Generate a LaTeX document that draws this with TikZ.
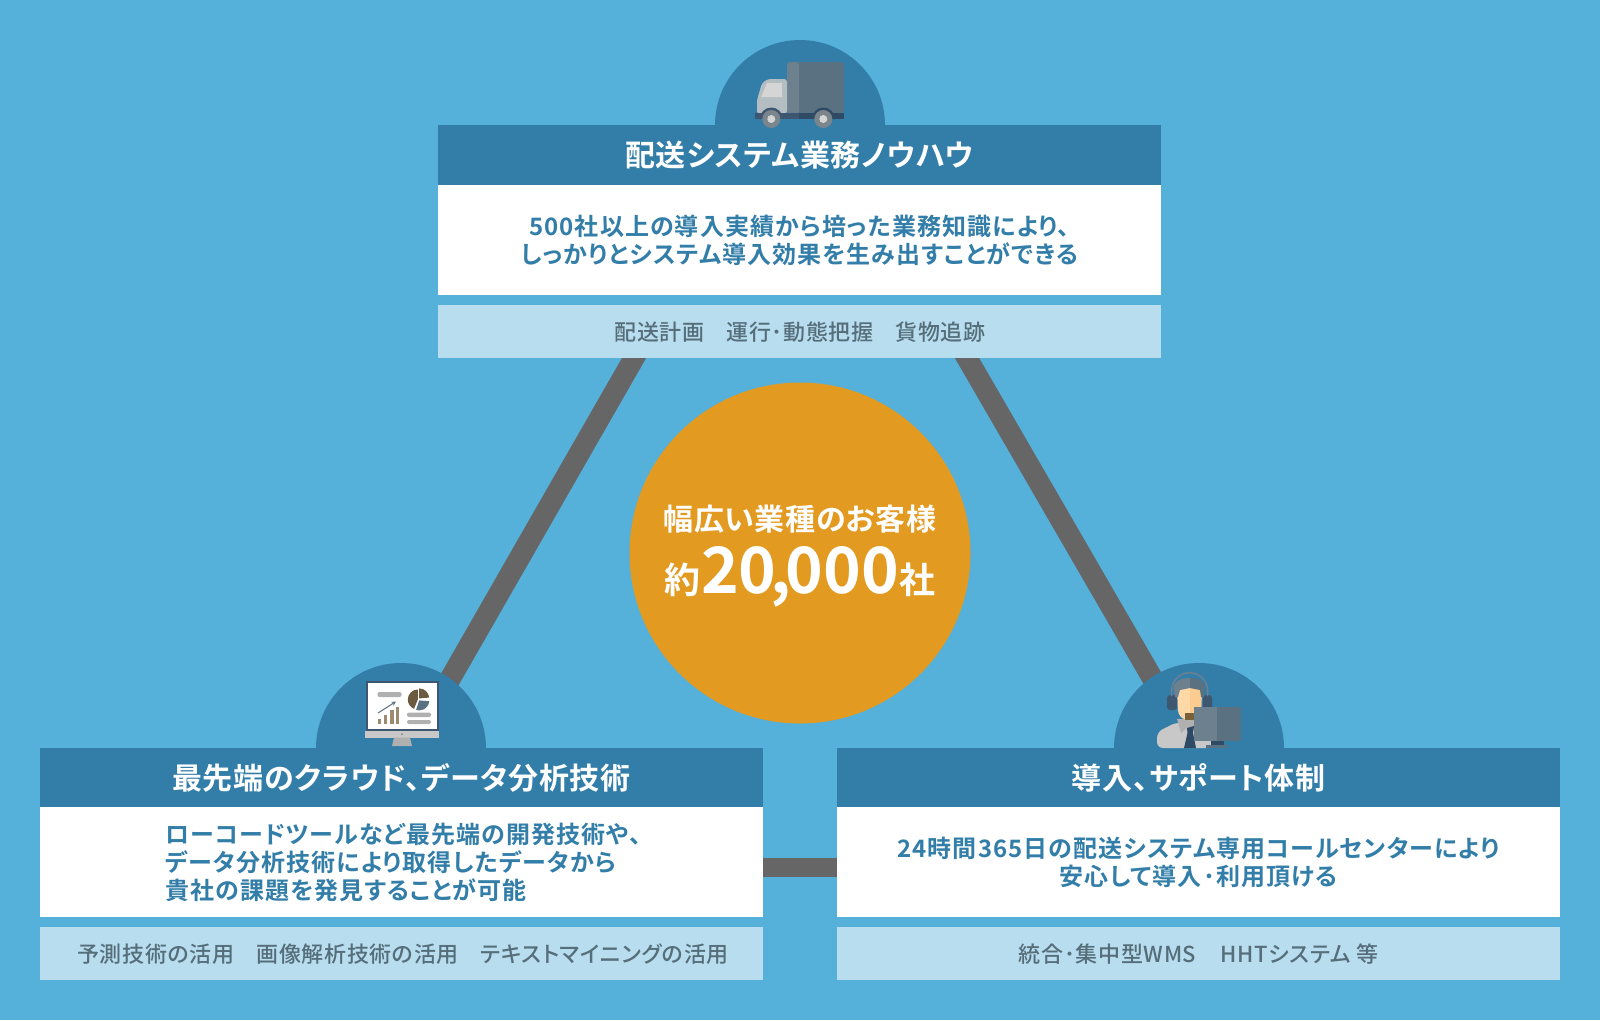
\documentclass[tikz,border=0pt]{standalone}
\usepackage{fontspec}
\setmainfont{Noto Sans CJK JP}
\newfontfamily\jpb{Noto Sans CJK JP}[UprightFont={* Bold},RawFeature=+palt,LetterSpace=4.5]
\newfontfamily\jpbh{Noto Sans CJK JP}[UprightFont={* Bold},RawFeature=+palt,LetterSpace=2.5]
\newfontfamily\jpbc{Noto Sans CJK JP}[UprightFont={* Bold},RawFeature=+palt,LetterSpace=2]
\newfontfamily\jpbn{Noto Sans CJK JP}[UprightFont={* Bold},RawFeature=+palt]
\newfontfamily\jpm{Noto Sans CJK JP}[UprightFont={* Medium},RawFeature=+palt,LetterSpace=3]
\definecolor{bgblue}{HTML}{55B0DA}
\definecolor{headblue}{HTML}{327EA9}
\definecolor{lightblue}{HTML}{B7DDEF}
\definecolor{orangec}{HTML}{E29A20}
\definecolor{linegrey}{HTML}{666666}
\definecolor{subtext}{HTML}{566D7A}
\definecolor{slatea}{HTML}{6C808E}
\definecolor{slateb}{HTML}{5A7181}
\definecolor{navyc}{HTML}{3E5670}
\definecolor{navyd}{HTML}{2F4A64}
\definecolor{cabc}{HTML}{B4BDC2}
\definecolor{glassc}{HTML}{D5D5D5}
\definecolor{wheelc}{HTML}{7B858C}
\definecolor{greyA}{HTML}{C8C8C8}
\definecolor{greyB}{HTML}{B0B0B0}
\definecolor{barc}{HTML}{9C8B70}
\definecolor{piec}{HTML}{6B5A40}
\definecolor{skinc}{HTML}{FFD8A8}
\definecolor{skind}{HTML}{FBCB90}
\definecolor{beardc}{HTML}{7A6238}
\tikzset{
  headbar/.style={fill=headblue,minimum width=723pt,minimum height=60pt,inner sep=0pt,text=white,font=\jpbh\fontsize{30}{32}\selectfont},
  bodybox/.style={fill=white,minimum width=723pt,minimum height=110pt,inner sep=0pt,text=headblue,font=\jpb\fontsize{24}{28}\selectfont,align=center},
  subbar/.style={fill=lightblue,minimum width=723pt,minimum height=53pt,inner sep=0pt,text=subtext,font=\jpm\fontsize{22}{26}\selectfont},
  subtextlabel/.style={inner sep=0pt,text=subtext,font=\jpm\fontsize{22}{26}\selectfont},
  dome/.style={fill=headblue,draw=none},
  link/.style={draw=linegrey,line width=21pt},
  centre/.style={circle,fill=orangec,minimum size=341pt,inner sep=0pt},
  plain/.style={inner sep=0pt,text=white}
}
\begin{document}
\begin{tikzpicture}[x=1pt,y=-1pt]
\fill[bgblue] (0,0) rectangle (1600,1020);
\useasboundingbox (0,0) rectangle (1600,1020);
% panel anchors
\coordinate (domeT) at (800,125);
\coordinate (domeL) at (401,748);
\coordinate (domeR) at (1199,748);
\coordinate (lineTLa) at (637.5,352);
\coordinate (lineTLb) at (438,700);
\coordinate (lineTRa) at (963.5,352);
\coordinate (lineTRb) at (1165,700);
\coordinate (lineBa) at (760,867.5);
\coordinate (lineBb) at (840,867.5);
% connectors
\draw[link] (lineTLa) -- (lineTLb);
\draw[link] (lineTRa) -- (lineTRb);
\draw[link,line width=19pt] (lineBa) -- (lineBb);
% domes
\fill[dome] ([xshift=-85pt]domeT) arc[start angle=180,end angle=0,radius=85pt] -- cycle;
\fill[dome] ([xshift=-85pt]domeL) arc[start angle=180,end angle=0,radius=85pt] -- cycle;
\fill[dome] ([xshift=-85pt]domeR) arc[start angle=180,end angle=0,radius=85pt] -- cycle;
% top panel
\node[headbar] (thead) at (799.5,155) {配送システム業務ノウハウ};
\node[bodybox] (tbody) at (799.5,240) {500社以上の導入実績から培った業務知識により、\\しっかりとシステム導入効果を生み出すことができる};
\node[subbar] (tsub) at (799.5,331.5) {};
\node[subtextlabel] (tsubt) at (800,332.5) {配送計画\hspace{1em}運行･動態把握\hspace{1em}貨物追跡};
% left panel
\node[headbar] (lhead) at (401.5,777.5) {最先端のクラウド、データ分析技術};
\node[bodybox] (lbody) at (401.5,862) {};
\node[anchor=west,inner sep=0pt,text=headblue,font=\jpb\fontsize{24}{28}\selectfont,align=left] (ltext) at (165,862) {ローコードツールなど最先端の開発技術や、\\データ分析技術により取得したデータから\\貴社の課題を発見することが可能};
\node[subbar] (lsub) at (401.5,953.5) {};
\node[subtextlabel] (lsubt) at (403,954.5) {予測技術の活用\hspace{1em}画像解析技術の活用\hspace{1em}テキストマイニングの活用};
% right panel
\node[headbar] (rhead) at (1198.5,777.5) {導入、サポート体制};
\node[bodybox] (rbody) at (1198.5,862) {24時間365日の配送システム専用コールセンターにより\\安心して導入･利用頂ける};
\node[subbar] (rsub) at (1198.5,953.5) {};
\node[subtextlabel] (rsubt) at (1198.5,954.5) {統合･集中型WMS\hspace{1.1em}HHTシステム 等};
% centre
\node[centre] (hub) at (800,553) {};
\node[plain,font=\jpbc\fontsize{30}{32}\selectfont] (hubA) at (800,519) {幅広い業種のお客様};
\node[plain,anchor=base,font=\jpbn\fontsize{36}{40}\selectfont] (hubB) at (800,593) {約\kern1pt{\fontsize{64}{64}\selectfont 20\kern-6pt,\kern-6pt000}\kern1pt社};
% truck
\fill[slateb,rounded corners=3pt] (787,62) rectangle (844,114);
\fill[slatea,rounded corners=3pt] (787,62) -- (799,62) -- (799,114) -- (787,114) -- cycle;
\fill[cabc,rounded corners=3pt] (787,79) -- (768,79) -- (762,83) -- (757,100) -- (757,114) -- (787,114) -- cycle;
\fill[glassc] (767,83) -- (782,83) -- (782,97) -- (761,97) -- cycle;
\fill[navyc] (755,113) rectangle (799,119);
\fill[navyd] (799,113) rectangle (844,119);
\fill[navyc] (759.8,119) arc[start angle=180,end angle=0,radius=11.5pt] -- cycle;
\fill[navyd] (811.8,119) arc[start angle=180,end angle=0,radius=11.5pt] -- cycle;
\fill[wheelc] (771.3,119) circle (9pt);
\fill[wheelc] (823.3,119) circle (9pt);
\fill[glassc] (771.3,119) circle (4pt);
\fill[glassc] (823.3,119) circle (4pt);
% monitor
\fill[navyc] (365.5,681) rectangle (438.5,731);
\fill[white] (367.7,683.3) rectangle (436.7,728.5);
\fill[greyA] (365,731) rectangle (439,737.5);
\fill[greyB] (394,737.5) -- (410,737.5) -- (412,746) -- (392,746) -- cycle;
\fill[wheelc] (402,734.2) circle (1pt);
\fill[greyB,rounded corners=2pt] (377.5,692) rectangle (401.5,697);
\fill[greyB,rounded corners=2pt] (407,712.5) rectangle (431,717);
\fill[greyB,rounded corners=2pt] (407,720) rectangle (431,724);
\foreach \x/\h in {377.5/5,383.5/9,390/14,395.5/17}{\fill[barc] (\x,723.5) rectangle ++(3.5,-\h);}
\draw[slateb,line width=1pt,-stealth] (378,713) -- (396,701.5);
\fill[piec] (417.8,699.5) -- ++(90:10pt) arc[start angle=90,end angle=248,radius=10pt] -- cycle;
\fill[piec] (419.2,698.4) -- ++(90:10pt) arc[start angle=90,end angle=5,radius=10pt] -- cycle;
\fill[slateb] (419.2,700.4) -- ++(-5:10pt) arc[start angle=-5,end angle=-108,radius=10pt] -- cycle;
% operator
\fill[greyA,rounded corners=6pt] (1157,748) -- (1157,732) -- (1177,722) -- (1212,730) -- (1212,748) -- cycle;
\fill[greyB] (1177,719) -- (1196,719) -- (1196,731) -- (1187,728) -- (1181,733) -- cycle;
\fill[navyd] (1187,728) -- (1194,726) -- (1193,733) -- (1196,748) -- (1184,748) -- (1187.5,733) -- cycle;
\fill[navyc,rounded corners=3pt] (1167,695) rectangle (1177,710);
\fill[navyc,rounded corners=3pt] (1203,695) rectangle (1212,710);
\fill[skinc,rounded corners=4pt] (1177,686) -- (1202,686) -- (1201,714) -- (1195,720) -- (1184,720) -- (1178,714) -- cycle;
\fill[skind] (1190,686) -- (1201.8,686) -- (1201,714) -- (1195.5,719) -- (1190,720) -- cycle;
\fill[slatea] (1175,697) -- (1173.5,688) .. controls (1174,680) and (1182,678) .. (1190,678) -- (1190,688) -- (1180,690) -- (1178,697) -- cycle;
\fill[slateb] (1190,678) .. controls (1198,678) and (1205,680) .. (1205,688) -- (1204,697) -- (1201,697) -- (1200,690) -- (1190,688) -- cycle;
\draw[slatea,line width=1.5pt] (1171.7,696) -- (1171.7,690.7) arc[start angle=180,end angle=0,radius=18pt] -- (1207.7,696);
\fill[beardc] (1185,712.5) rectangle (1196,719.5);
\fill[slatea] (1194,707) rectangle (1217,741);
\fill[slateb] (1217,707) rectangle (1241,741);
\fill[navyd] (1211,741) rectangle (1224,745);
\fill[slateb] (1206,745) rectangle (1228,748);
\end{tikzpicture}
\end{document}
